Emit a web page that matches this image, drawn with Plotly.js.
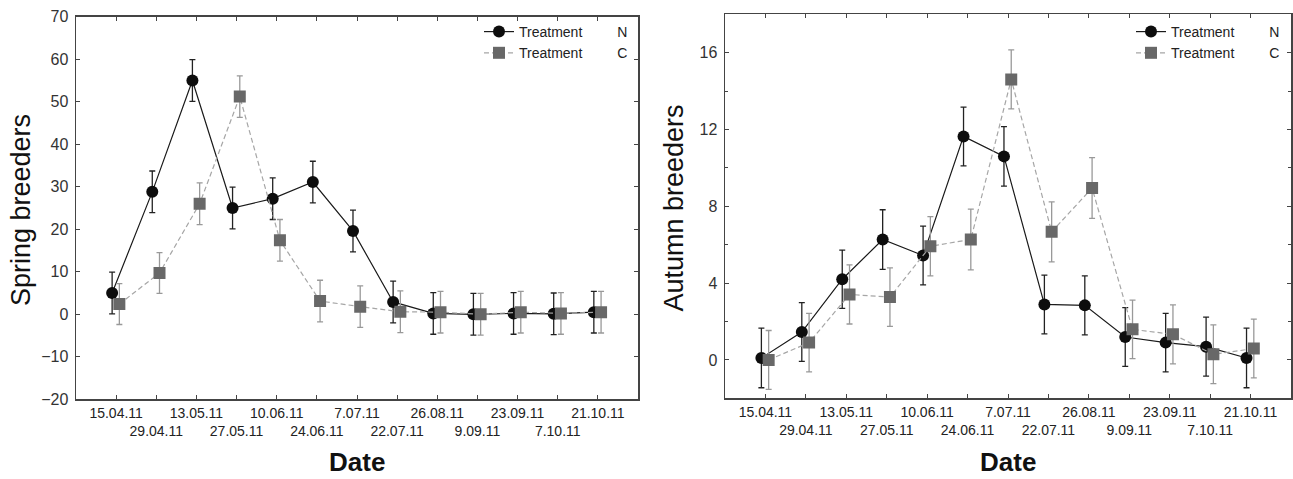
<!DOCTYPE html>
<html><head><meta charset="utf-8">
<script src="https://cdn.plot.ly/plotly-3.0.1.min.js"></script>
<style>html,body{margin:0;padding:0;background:#fff}#chart{width:1293px;height:479px}</style>
</head><body><div id="chart"></div>
<script>
// Categories (sampling dates)
const dates = ['15.04.11','29.04.11','13.05.11','27.05.11','10.06.11','24.06.11','7.07.11','22.07.11','26.08.11','9.09.11','23.09.11','7.10.11','21.10.11'];
const groups = ['N', 'C'];
const seriesLabel = 'Treatment';

// Spring breeders (left panel)
const springN    = [5.0, 28.8, 55.0, 25.0, 27.2, 31.1, 19.6, 2.9, 0.2, 0.0, 0.2, 0.1, 0.5];
const springNErr = [4.9, 4.9, 4.9, 4.9, 4.9, 4.9, 4.9, 4.9, 4.9, 4.9, 4.9, 4.9, 4.9];
const springC    = [2.4, 9.7, 26.0, 51.2, 17.4, 3.1, 1.8, 0.6, 0.5, 0.0, 0.5, 0.2, 0.5];
const springCErr = [4.8, 4.8, 4.9, 4.9, 4.9, 4.9, 4.9, 4.9, 4.9, 4.9, 4.9, 4.9, 4.9];

// Autumn breeders (right panel)
const autumnN    = [0.1, 1.45, 4.2, 6.27, 5.44, 11.64, 10.6, 2.89, 2.84, 1.19, 0.9, 0.69, 0.1];
const autumnNErr = [1.55, 1.53, 1.52, 1.55, 1.53, 1.53, 1.55, 1.53, 1.54, 1.53, 1.52, 1.54, 1.55];
const autumnC    = [0.0, 0.9, 3.41, 3.27, 5.92, 6.27, 14.61, 6.67, 8.95, 1.59, 1.33, 0.29, 0.59];
const autumnCErr = [1.53, 1.52, 1.54, 1.52, 1.54, 1.58, 1.54, 1.56, 1.58, 1.52, 1.54, 1.53, 1.53];

const W = 1293, H = 479;
const FONT = 'Liberation Sans, Arial, sans-serif';
const idx = dates.map((d, i) => i);
const tickText = dates.map((d, i) => i % 2 ? '\u00a0<br>' + d : d);
const NB = '\u00a0'.repeat(9);

function nTrace(y, err, xa, ya, legend) {
  return {
    x: idx.map(i => i - 0.1), y: y, xaxis: xa, yaxis: ya, legend: legend,
    type: 'scatter', mode: 'lines+markers', name: seriesLabel + NB + groups[0],
    line: {color: '#1a1a1a', width: 1.2},
    marker: {symbol: 'circle', size: 12, color: '#0d0d0d'},
    error_y: {type: 'data', array: err, visible: true, color: '#222', thickness: 1.3, width: 3}
  };
}
function cTrace(y, err, xa, ya, legend) {
  return {
    x: idx.map(i => i + 0.08), y: y, xaxis: xa, yaxis: ya, legend: legend,
    type: 'scatter', mode: 'lines+markers', name: seriesLabel + NB + groups[1],
    line: {color: '#a6a6a6', width: 1.2, dash: '5px,3px'},
    marker: {symbol: 'square', size: 12, color: '#686868'},
    error_y: {type: 'data', array: err, visible: true, color: '#999', thickness: 1.3, width: 3}
  };
}

const data = [
  nTrace(springN, springNErr, 'x', 'y', 'legend'),
  cTrace(springC, springCErr, 'x', 'y', 'legend'),
  nTrace(autumnN, autumnNErr, 'x2', 'y2', 'legend2'),
  cTrace(autumnC, autumnCErr, 'x2', 'y2', 'legend2')
];

const xCommon = {
  range: [-1, 13], tickmode: 'array', tickvals: idx, ticktext: tickText, tickangle: 0,
  showgrid: false, zeroline: false, showline: true, linecolor: '#444', linewidth: 1.5,
  mirror: 'ticks', ticks: 'inside', ticklen: 4, tickcolor: '#444',
  tickfont: {family: FONT, size: 14, color: '#222'}
};
const yCommon = {
  showgrid: false, zeroline: false, showline: true, linecolor: '#444', linewidth: 1.5,
  mirror: 'ticks', ticks: 'inside', ticklen: 4, tickcolor: '#444',
  tickfont: {family: FONT, size: 16, color: '#333'}, ticklabelstandoff: 3
};

const layout = {
  width: W, height: H, margin: {l: 0, r: 0, t: 0, b: 0},
  paper_bgcolor: '#fff', plot_bgcolor: '#fff', showlegend: true,
  font: {family: FONT},
  xaxis: Object.assign({}, xCommon, {domain: [76 / W, 638 / W], anchor: 'y'}),
  yaxis: Object.assign({}, yCommon, {domain: [(H - 399.3) / H, (H - 16.7) / H], anchor: 'x', range: [-20, 70], dtick: 10, tick0: 0}),
  xaxis2: Object.assign({}, xCommon, {domain: [725 / W, 1291 / W], anchor: 'y2'}),
  yaxis2: Object.assign({}, yCommon, {domain: [(H - 398.3) / H, (H - 14.3) / H], anchor: 'x2', range: [-2, 18], tickvals: [0, 4, 8, 12, 16],
    minor: {dtick: 2, ticks: 'inside', ticklen: 3, tickcolor: '#444'}}),
  legend: {x: 479 / W, y: 1 - 16 / H, xanchor: 'left', yanchor: 'top', bgcolor: 'rgba(0,0,0,0)',
    font: {family: FONT, size: 14, color: '#222'}, tracegroupgap: 0},
  legend2: {x: 1131 / W, y: 1 - 16 / H, xanchor: 'left', yanchor: 'top', bgcolor: 'rgba(0,0,0,0)',
    font: {family: FONT, size: 14, color: '#222'}, tracegroupgap: 0},
  annotations: [
    {text: 'Spring breeders', xref: 'paper', yref: 'paper', x: 21 / W, y: 1 - 210 / H, textangle: -90,
     xanchor: 'center', yanchor: 'middle',
     showarrow: false, font: {family: FONT, size: 27, color: '#111'}},
    {text: 'Autumn breeders', xref: 'paper', yref: 'paper', x: 673 / W, y: 1 - 208.5 / H, textangle: -90,
     xanchor: 'center', yanchor: 'middle',
     showarrow: false, font: {family: FONT, size: 27, color: '#111'}},
    {text: '<b>Date</b>', xref: 'paper', yref: 'paper', x: 357 / W, y: 1 - 462 / H,
     xanchor: 'center', yanchor: 'middle', borderpad: 0,
     showarrow: false, font: {family: FONT, size: 26, color: '#111'}},
    {text: '<b>Date</b>', xref: 'paper', yref: 'paper', x: 1008 / W, y: 1 - 462 / H,
     xanchor: 'center', yanchor: 'middle', borderpad: 0,
     showarrow: false, font: {family: FONT, size: 26, color: '#111'}}
  ]
};

Plotly.newPlot('chart', data, layout, {staticPlot: true, displayModeBar: false});
</script>
</body></html>
